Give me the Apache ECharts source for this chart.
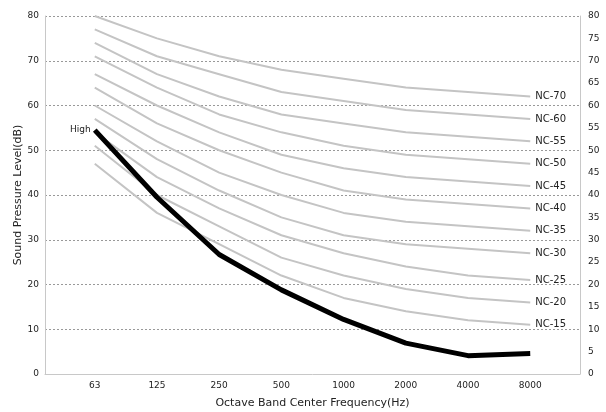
<!DOCTYPE html>
<html>
<head>
<meta charset="utf-8">
<script src="https://cdn.jsdelivr.net/npm/echarts@6/dist/echarts.min.js"></script>
<style>
  html, body { margin: 0; padding: 0; background: #fff; }
  #main { width: 606px; height: 412px; }
</style>
</head>
<body>
<div id="main"></div>
<script>
// 倍频程中心频率
var freqs = ['63', '125', '250', '500', '1000', '2000', '4000', '8000'];

// NC 曲线（标签按原图）
var ncNames = ['NC-70', 'NC-60', 'NC-55', 'NC-50', 'NC-45', 'NC-40', 'NC-35', 'NC-30', 'NC-25', 'NC-20', 'NC-15'];
var ncValues = [
    [80, 75, 71, 68, 66, 64, 63, 62],
    [77, 71, 67, 63, 61, 59, 58, 57],
    [74, 67, 62, 58, 56, 54, 53, 52],
    [71, 64, 58, 54, 51, 49, 48, 47],
    [67, 60, 54, 49, 46, 44, 43, 42],
    [64, 56, 50, 45, 41, 39, 38, 37],
    [60, 52, 45, 40, 36, 34, 33, 32],
    [57, 48, 41, 35, 31, 29, 28, 27],
    [54, 44, 37, 31, 27, 24, 22, 21],
    [51, 40, 33, 26, 22, 19, 17, 16],
    [47, 36, 29, 22, 17, 14, 12, 11]
];

// 实测 High
var highValues = [54.5, 39.5, 26.7, 18.8, 12.2, 6.9, 4.1, 4.6];

var chart = echarts.init(document.getElementById('main'));

var series = [];
ncValues.forEach(function (vals, k) {
    series.push({
        name: ncNames[k],
        type: 'line',
        yAxisIndex: 0,
        showSymbol: false,
        symbol: 'none',
        silent: true,
        lineStyle: { color: '#c4c4c4', width: 2 },
        data: vals.map(function (v, i) { return [i, v]; }),
        endLabel: {
            show: true,
            formatter: '{a}',
            color: '#222',
            fontSize: 10,
            fontFamily: 'DejaVu Sans',
            distance: 5
        },
        z: 2
    });
});

series.push({
    name: 'High',
    type: 'line',
    yAxisIndex: 0,
    symbol: 'circle',
    symbolSize: 0,
    showSymbol: true,
    silent: true,
    lineStyle: { color: '#000', width: 5 },
    itemStyle: { color: '#000' },
    data: highValues.map(function (v, i) {
        if (i === 0) {
            return {
                value: [i, v],
                label: {
                    show: true, position: 'left', formatter: 'High', distance: 4,
                    color: '#222', fontSize: 9, fontFamily: 'DejaVu Sans'
                }
            };
        }
        return [i, v];
    }),
    z: 5
});

var option = {
    animation: false,
    textStyle: { fontFamily: 'DejaVu Sans' },
    grid: { left: 45, right: 26, top: 16, bottom: 38, containLabel: false, outerBoundsMode: 'none' },
    xAxis: {
        type: 'value',
        min: -0.8,
        max: 7.8,
        name: 'Octave Band Center Frequency(Hz)',
        nameLocation: 'middle',
        nameGap: 24,
        nameMoveOverlap: false,
        nameTextStyle: { color: '#222', fontSize: 11 },
        axisLine: { onZero: false, lineStyle: { color: '#c8c8c8' } },
        axisTick: { show: false },
        splitLine: { show: false },
        axisLabel: {
            customValues: [0, 1, 2, 3, 4, 5, 6, 7],
            formatter: function (v) { return freqs[Math.round(v)]; },
            color: '#222',
            fontSize: 9,
            margin: 7
        }
    },
    yAxis: [{
        type: 'value',
        min: 0,
        max: 80,
        interval: 10,
        name: 'Sound Pressure Level(dB)',
        nameLocation: 'middle',
        nameGap: 21,
        nameMoveOverlap: false,
        nameTextStyle: { color: '#222', fontSize: 11 },
        axisLine: { show: true, onZero: false, lineStyle: { color: '#c8c8c8' } },
        axisTick: { show: false },
        axisLabel: { color: '#222', fontSize: 9, margin: 6 },
        splitLine: { lineStyle: { color: '#999', type: [2, 2], width: 1 } }
    }, {
        type: 'value',
        position: 'right',
        min: 0,
        max: 80,
        interval: 5,
        axisLine: { show: true, onZero: false, lineStyle: { color: '#c8c8c8' } },
        axisTick: { show: false },
        axisLabel: { color: '#222', fontSize: 9, margin: 8 },
        splitLine: { show: false }
    }],
    series: series
};
chart.setOption(option);
</script>
</body>
</html>
